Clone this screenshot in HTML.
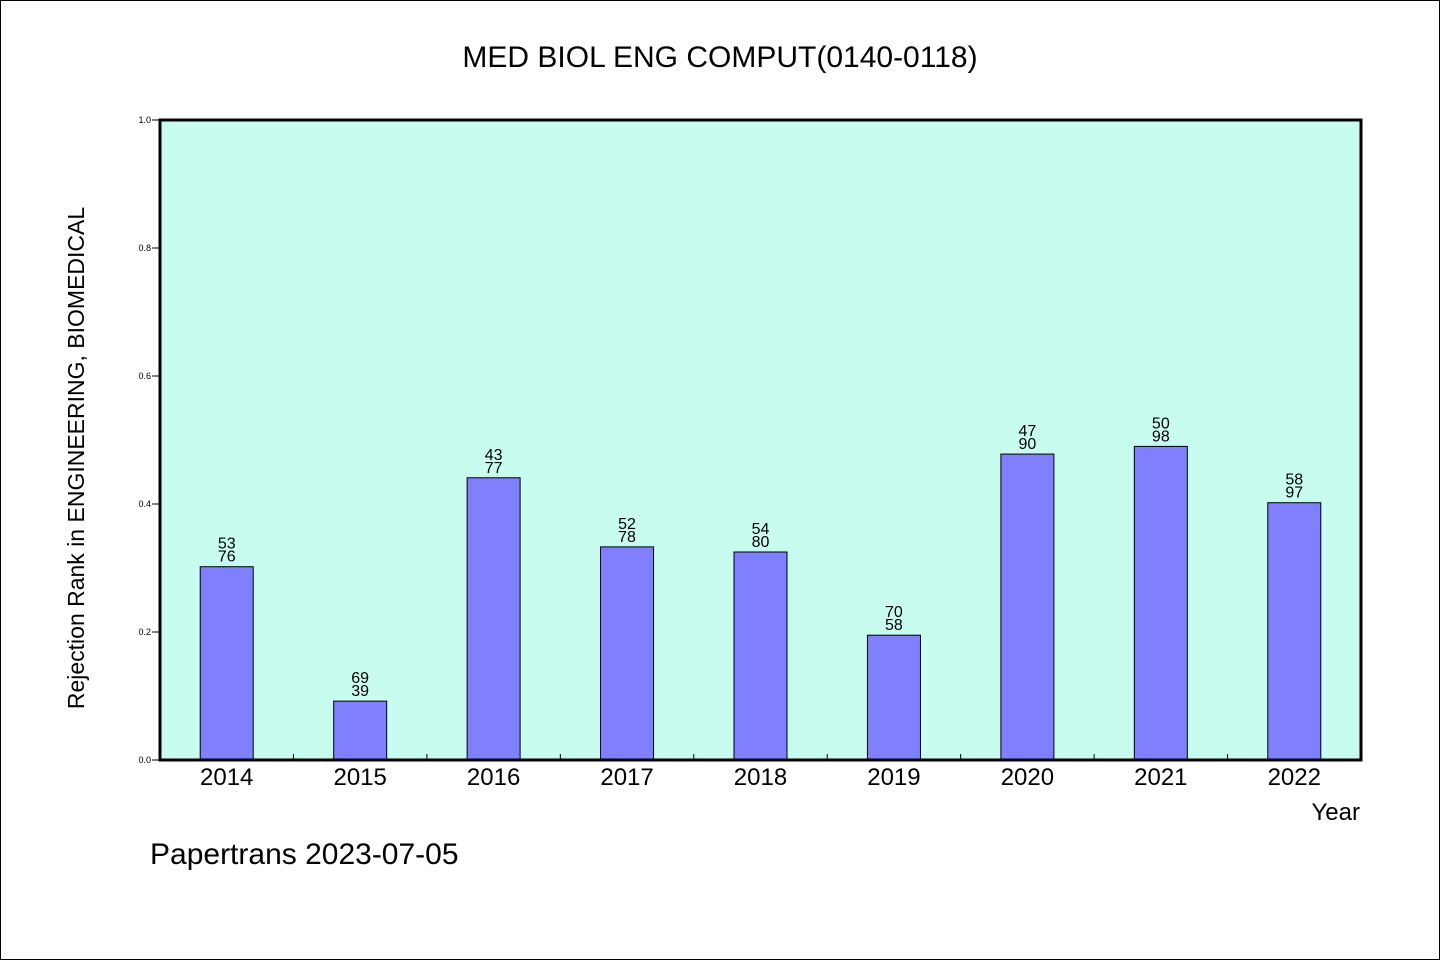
<!DOCTYPE html>
<html><head><meta charset="utf-8"><style>
html,body{margin:0;padding:0;background:#fff}
svg{display:block}
text{font-family:"WenQuanYi Zen Hei","Liberation Sans",sans-serif;fill:#000}
</style></head><body>
<svg id="chart" width="1440" height="960">
<rect x="0.5" y="0.5" width="1439" height="959" fill="#fff" stroke="#000"/>
<text x="720" y="67" font-size="30" text-anchor="middle">MED BIOL ENG COMPUT(0140-0118)</text>
<rect x="160" y="120" width="1201" height="640" fill="#c8fcee"/>
<g id="bars"></g>
<g id="ticks"></g>
<rect x="160" y="120" width="1201" height="640" fill="none" stroke="#000" stroke-width="3"/>
<text x="0" y="0" font-size="23" text-anchor="middle" transform="translate(84,458) rotate(-90)">Rejection Rank in ENGINEERING, BIOMEDICAL</text>
<text x="1360" y="820" font-size="24" text-anchor="end">Year</text>
<text x="150" y="864" font-size="30">Papertrans 2023-07-05</text>
</svg>
<script>
const categories=["2014","2015","2016","2017","2018","2019","2020","2021","2022"];
const values=[0.302,0.092,0.441,0.333,0.325,0.195,0.478,0.490,0.402];
const labelTop=["53","69","43","52","54","70","47","50","58"];
const labelBottom=["76","39","77","78","80","58","90","98","97"];
const yTicks=[0,0.2,0.4,0.6,0.8,1.0];
const yTickLabels=["0.0","0.2","0.4","0.6","0.8","1.0"];
const NS="http://www.w3.org/2000/svg";
const X0=160,W=1201,Y0=760,H=640;
const step=W/categories.length;
const xs=i=>X0+step*(i+0.5);
const ys=v=>Y0-v*H;
function mk(tag,attrs,parent,txt){const e=document.createElementNS(NS,tag);for(const k in attrs)e.setAttribute(k,attrs[k]);if(txt!==undefined)e.textContent=txt;parent.appendChild(e);return e;}
const gb=document.getElementById('bars'),gt=document.getElementById('ticks');
categories.forEach((c,i)=>{
  const cx=xs(i),top=ys(values[i]);
  const r=mk('rect',{x:cx-26.5,y:top,width:53,height:Y0-top,fill:'#8080ff',stroke:'#000','stroke-width':1},gb);
  
  
  const t1=mk('text',{x:cx,y:top-18,'font-size':16,'text-anchor':'middle'},gb,labelTop[i]);
  
  
  const t2=mk('text',{x:cx,y:top-5,'font-size':16,'text-anchor':'middle'},gb,labelBottom[i]);
  
  
  const xl=mk('text',{x:cx,y:785,'font-size':24,'text-anchor':'middle'},gt,c);
  
  
  if(i>0){const tk=mk('line',{x1:X0+step*i,x2:X0+step*i,y1:Y0,y2:Y0-6,stroke:'#000'},gt);
  
  }
});
yTicks.forEach((v,i)=>{
  const y=ys(v);
  const l=mk('line',{x1:X0-8,x2:X0,y1:y,y2:y,stroke:'#000'},gt);
  
  
  const t=mk('text',{x:X0-9,y:y+3,'font-size':9,'text-anchor':'end'},gt,yTickLabels[i]);
  
  
});
</script>
</body></html>
